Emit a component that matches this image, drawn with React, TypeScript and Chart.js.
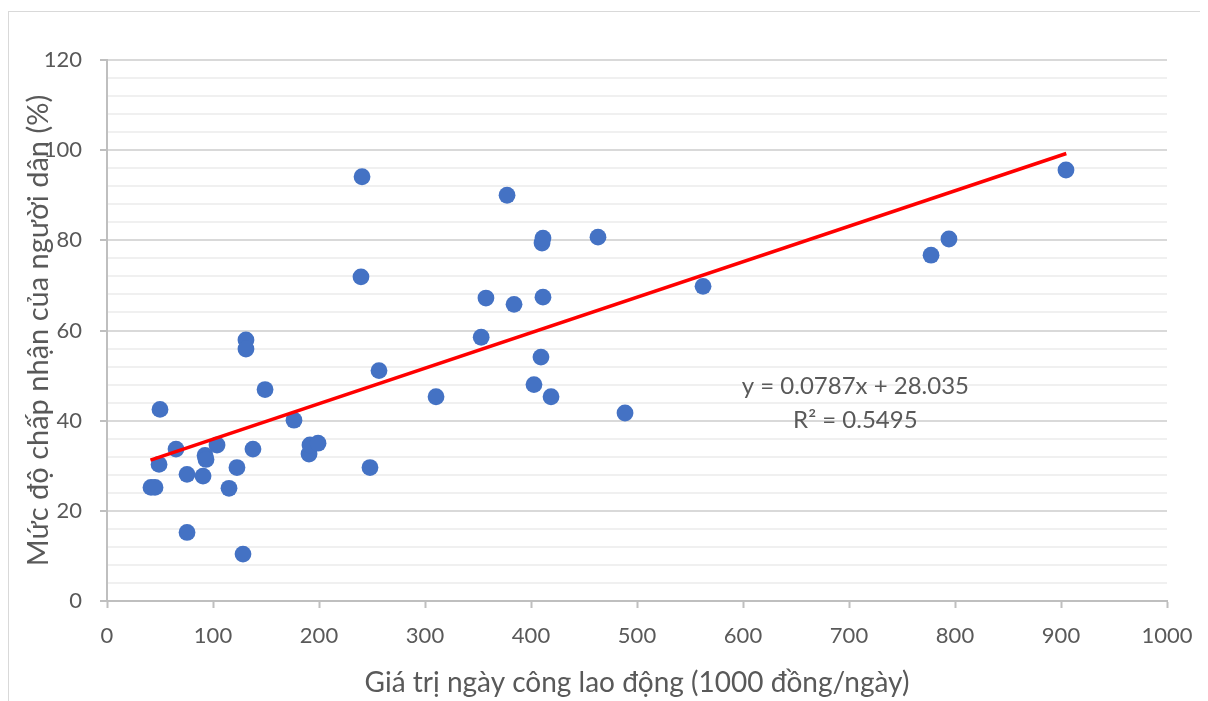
import React, { useEffect, useRef } from "react";
import { Chart, registerables } from "chart.js";

Chart.register(...registerables);

// Data
const xValues = [41.5, 45.3, 49.1, 50, 65.1, 75.5, 75.5, 90.6, 92.5, 93.4, 103.8, 115.1, 122.6, 128.3, 131.1, 131.1, 137.7, 149.1, 176.4, 190.6, 191.5, 199.1, 240.6, 239.6, 248.1, 256.6, 310.4, 353, 357.5, 377.4, 384, 402.8, 409.4, 410.4, 411.3, 411.3, 418.9, 463.2, 488.7, 562.3, 777.4, 794.3, 904.7];
const yValues = [25.2, 25.2, 30.3, 42.5, 33.7, 28.1, 15.2, 27.7, 32.3, 31.4, 34.6, 25.0, 29.6, 10.4, 57.9, 55.9, 33.7, 46.9, 40.1, 32.6, 34.6, 35.0, 94.1, 71.9, 29.6, 51.1, 45.3, 58.5, 67.2, 90.0, 65.8, 48.0, 54.1, 79.4, 80.5, 67.4, 45.3, 80.7, 41.7, 69.8, 76.7, 80.3, 95.6];
const trendX = [41, 905];
const trendY = [31.26, 99.26];
const equationLines = ["y = 0.0787x + 28.035", "R² = 0.5495"];
const xTitle = "Giá trị ngày công lao động (1000 đồng/ngày)";
const yTitle = "Mức độ chấp nhận của người dân (%)";

const FONT = "Lato, 'Open Sans', sans-serif";
const TEXT = "#595959";

const equationPlugin = {
  id: "equationLabel",
  afterDatasetsDraw(chart: any) {
    const { ctx, scales } = chart;
    const cx = scales.x.getPixelForValue(706);
    const y1 = scales.y.getPixelForValue(47.6);
    const y2 = scales.y.getPixelForValue(40.0);
    ctx.save();
    ctx.fillStyle = TEXT;
    ctx.font = `24px ${FONT}`;
    ctx.textAlign = "center";
    ctx.textBaseline = "middle";
    ctx.fillText(equationLines[0], cx, y1);
    ctx.fillText(equationLines[1], cx, y2);
    ctx.restore();
  },
};

export default function App() {
  const ref = useRef<HTMLCanvasElement | null>(null);
  useEffect(() => {
    if (!ref.current) return;
    const points = xValues.map((x, i) => ({ x, y: yValues[i] }));
    const trend = trendX.map((x, i) => ({ x, y: trendY[i] }));
    const chart = new Chart(ref.current, {
      type: "scatter",
      data: {
        datasets: [
          {
            type: "line",
            data: trend,
            borderColor: "#FF0000",
            borderWidth: 3.5,
            pointRadius: 0,
            fill: false,
            order: 0,
          } as any,
          {
            data: points,
            backgroundColor: "#4472C4",
            borderColor: "#4472C4",
            borderWidth: 0,
            pointRadius: 8.4,
            order: 1,
          },
        ],
      },
      options: {
        animation: false,
        responsive: true,
        maintainAspectRatio: false,
        layout: { padding: { top: 48, right: 37, left: 0, bottom: 0 } },
        plugins: { legend: { display: false }, tooltip: { enabled: false } },
        scales: {
          x: {
            type: "linear",
            min: 0,
            max: 1000,
            afterFit: (s: any) => {
              s.height = 99;
              s.paddingLeft = 0;
              s.paddingRight = 0;
            },
            ticks: {
              stepSize: 100,
              color: TEXT,
              font: { family: FONT, size: 22 },
              padding: 15,
              autoSkip: false,
              maxRotation: 0,
              callback: (v: any) => String(v),
            },
            grid: {
              drawOnChartArea: false,
              drawTicks: true,
              tickLength: 7,
              tickColor: "#bfbfbf",
              tickWidth: 2,
            },
            border: { color: "#bfbfbf", width: 2 },
            title: {
              display: true,
              text: xTitle,
              color: TEXT,
              font: { family: FONT, size: 28 },
              padding: { top: 0, bottom: 0 },
            },
          },
          y: {
            type: "linear",
            min: 0,
            max: 120,
            afterFit: (s: any) => {
              s.width = 98;
              s.paddingTop = 0;
              s.paddingBottom = 0;
            },
            ticks: {
              stepSize: 4,
              autoSkip: false,
              color: TEXT,
              font: { family: FONT, size: 22 },
              padding: 18,
              callback: (v: any) => (Number(v) % 20 === 0 ? String(v) : ""),
            },
            grid: {
              color: (c: any) => (c.tick && c.tick.value % 20 === 0 ? "#d9d9d9" : "#f0f0f0"),
              lineWidth: 2,
              tickLength: 7,
              tickColor: (c: any) => (c.tick && c.tick.value % 20 === 0 ? "#bfbfbf" : "rgba(0,0,0,0)"),
              tickWidth: 2,
            },
            border: { color: "#bfbfbf", width: 2 },
            title: {
              display: true,
              text: yTitle,
              color: TEXT,
              font: { family: FONT, size: 29 },
              padding: { top: 12, bottom: 0 },
            },
          },
        },
      },
      plugins: [equationPlugin],
    });
    return () => chart.destroy();
  }, []);

  return (
    <div
      style={{
        width: 1197,
        height: 690,
        marginTop: 3,
        border: "1px solid #d9d9d9",
        borderBottom: "none",
        boxSizing: "border-box",
        position: "relative",
      }}
    >
      <div style={{ position: "relative", width: 1195, height: 688 }}>
        <canvas ref={ref} />
      </div>
    </div>
  );
}
